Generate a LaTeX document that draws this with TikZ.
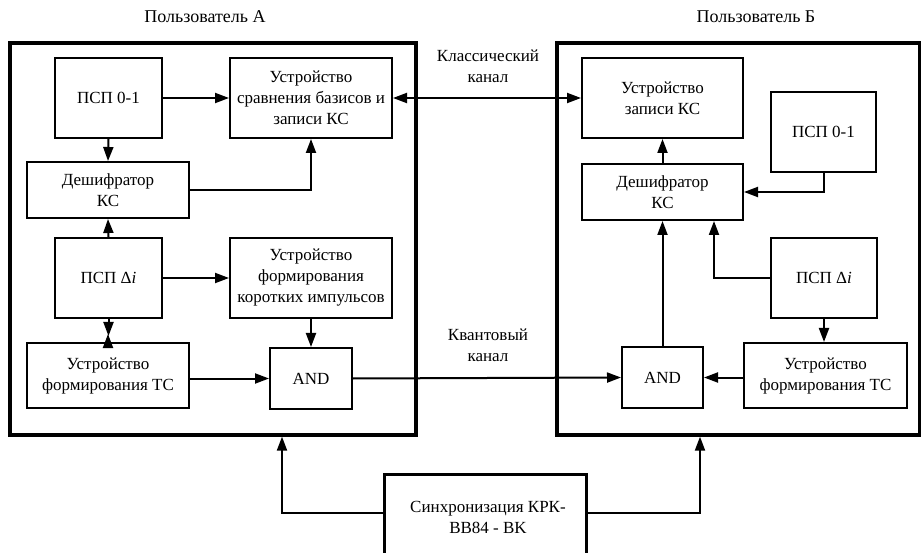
\documentclass[tikz,border=0pt]{standalone}
\usepackage{fontspec}
\setmainfont{Liberation Serif}
\usetikzlibrary{arrows.meta,calc}
\begin{document}
\begin{tikzpicture}[x=1pt,y=-1pt,
  every node/.style={font=\fontsize{17}{21}\selectfont},
  blk/.style={draw,line width=2pt,inner sep=0pt,align=center,fill=white},
  outer/.style={draw,line width=3.3pt,inner sep=0pt},
  conn/.style={line width=2pt},
  arr/.style={conn,-{Triangle[length=14pt,width=10pt]}},
  lbl/.style={align=center,inner sep=0pt}]
\useasboundingbox (0,0) rectangle (921,553);
\clip (0,0) rectangle (921,553);
% outer boxes
\node[outer,minimum width=406pt,minimum height=392pt] (A) at (213,239) {};
\node[outer,minimum width=362.5pt,minimum height=392pt] (B) at (738.25,239) {};
% titles
\node[lbl,font=\fontsize{18}{21}\selectfont] (tA) at (205,17) {Пользователь А};
\node[lbl,font=\fontsize{18}{21}\selectfont] (tB) at (756,17) {Пользователь Б};
% user A
\node[blk,minimum width=107pt,minimum height=80pt] (pspA) at (108.5,98) {ПСП 0-1};
\node[blk,minimum width=162pt,minimum height=80pt] (cmpA) at (311,98) {Устройство\\сравнения базисов и\\записи КС};
\node[blk,minimum width=162pt,minimum height=56pt] (decA) at (108,190) {Дешифратор\\КС};
\node[blk,minimum width=107pt,minimum height=80pt] (pdiA) at (108.5,278) {ПСП Δ\textit{i}};
\node[blk,minimum width=162pt,minimum height=80pt] (shortA) at (311,278) {Устройство\\формирования\\коротких импульсов};
\node[blk,minimum width=162pt,minimum height=65pt] (tsA) at (108,375.5) {Устройство\\формирования ТС};
\node[blk,minimum width=82pt,minimum height=61pt] (andA) at (311,378.5) {AND};
% user B
\node[blk,minimum width=161pt,minimum height=80pt] (recB) at (662.5,98) {Устройство\\записи КС};
\node[blk,minimum width=105pt,minimum height=80pt] (pspB) at (823.5,132) {ПСП 0-1};
\node[blk,minimum width=161pt,minimum height=56pt] (decB) at (662.5,192) {Дешифратор\\КС};
\node[blk,minimum width=106pt,minimum height=80pt] (pdiB) at (824,278) {ПСП Δ\textit{i}};
\node[blk,minimum width=81pt,minimum height=61pt] (andB) at (662.5,377.5) {AND};
\node[blk,minimum width=163pt,minimum height=65pt] (tsB) at (825.5,375.5) {Устройство\\формирования ТС};
% sync
\node[outer,line width=3pt,fill=white,minimum width=202pt,minimum height=86pt,align=center] (sync) at (485,517) {\hspace*{6pt}Синхронизация КРК-\\\hspace*{6pt}BB84 - BK};
% channel labels
\node[lbl] (cl) at (488,66) {Классический\\канал};
\node[lbl] (ql) at (488,345) {Квантовый\\канал};
% connectors A
\draw[arr] (pspA.east) -- (cmpA.west);
\draw[arr] (pspA.south) -- (decA.north);
\draw[arr] (decA.east) -| (cmpA.south);
\draw[arr] (pdiA.north) -- (decA.south);
\draw[arr] (pdiA.east) -- (shortA.west);
\draw[arr] (pdiA.south) -- ++(0,17);
\draw[arr] (tsA.north) -- ++(0,-8);
\draw[arr] (shortA.south) -- (andA.north);
\draw[arr] (tsA.east |- andA.west) -- (andA.west);
% channels
\draw[conn,{Triangle[length=14pt,width=10pt]}-{Triangle[length=14pt,width=10pt]}] (cmpA.east) -- (recB.west);
\draw[arr] (andA.east) -- (andB.west);
% connectors B
\draw[arr] (decB.north) -- (recB.south);
\draw[arr] (pspB.south) |- (decB.east);
\draw[arr] (pdiB.west) -| ([xshift=51.5pt]decB.south);
\draw[arr] (andB.north) -- (decB.south);
\draw[arr] (pdiB.south) -- (pdiB.south |- tsB.north);
\draw[arr] (tsB.west |- andB.east) -- (andB.east);
% sync connectors
\draw[arr] ([yshift=4pt]sync.west) -| ([xshift=69pt]A.south);
\draw[arr] ([yshift=4pt]sync.east) -| ([xshift=-38.25pt]B.south);
\end{tikzpicture}
\end{document}
